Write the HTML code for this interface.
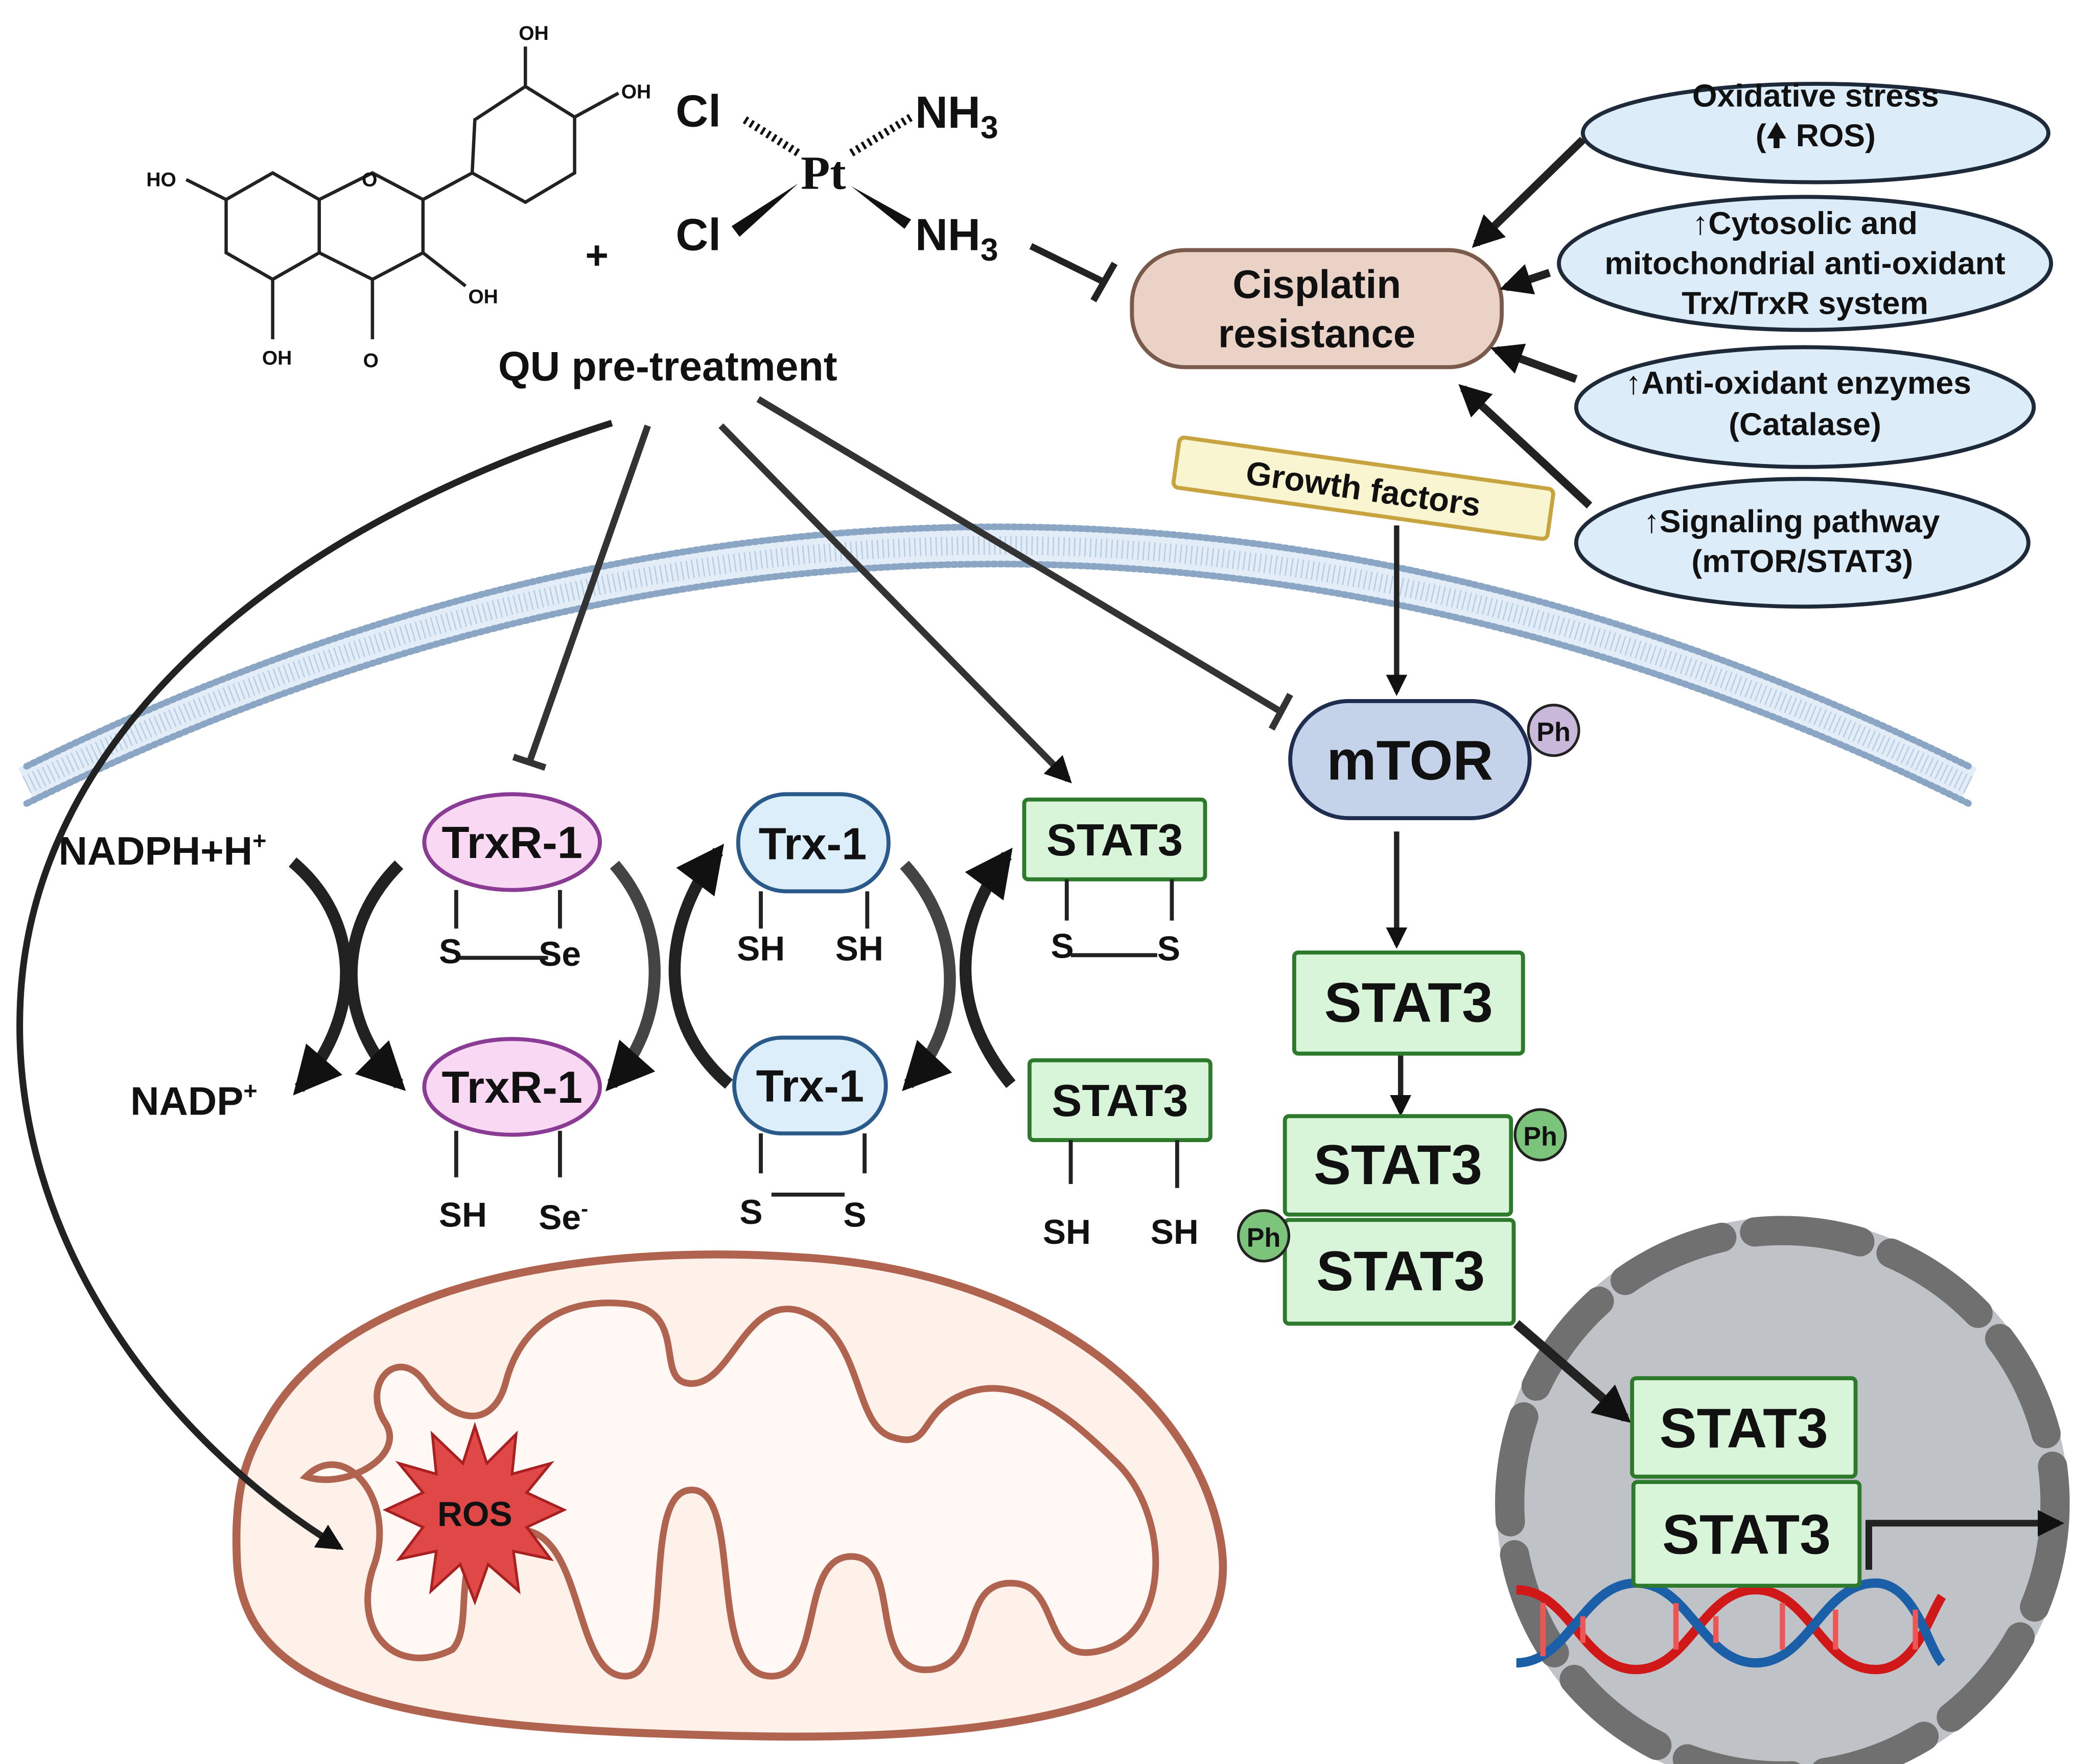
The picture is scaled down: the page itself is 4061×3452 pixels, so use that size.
<!DOCTYPE html>
<html><head><meta charset="utf-8"><style>
html,body{margin:0;padding:0;background:#fff;}
svg{display:block;}
text{font-family:"Liberation Sans",sans-serif;font-weight:bold;fill:#111;}
</style></head><body>
<svg width="4061" height="3452" viewBox="0 0 1560 1326" preserveAspectRatio="none" xmlns="http://www.w3.org/2000/svg">
<defs>
<marker id="ah" viewBox="0 0 10 10" refX="8" refY="5" markerWidth="4" markerHeight="4" orient="auto"><path d="M0,0 L10,5 L0,10 z" fill="#111"/></marker>
</defs>
<rect width="1560" height="1326" fill="#fff"/>

<!-- membrane -->
<path d="M20,590 Q750,230 1480,590" fill="none" stroke="#e3edf7" stroke-width="28"/>
<path d="M20,590 Q750,230 1480,590" fill="none" stroke="#b8cde2" stroke-width="14" stroke-dasharray="1 3"/>
<path d="M20,576 Q750,216 1480,576" fill="none" stroke="#8aa6c4" stroke-width="5" stroke-dasharray="2 3" stroke-linecap="round"/>
<path d="M20,604 Q750,244 1480,604" fill="none" stroke="#8aa6c4" stroke-width="5" stroke-dasharray="2 3" stroke-linecap="round"/>

<!-- quercetin -->
<g stroke="#222" stroke-width="2.5" fill="none">
<path d="M170,150 L205,130 L240,150 L240,190 L205,210 L170,190 Z"/>
<path d="M240,150 L280,130 L318,150 L318,190 L280,210 L240,190"/>
<path d="M318,150 L355,130 L357,90 L395,65 L432,88 L432,130 L395,152 L355,130"/>
<path d="M280,210 L280,255 M318,190 L350,215 M205,210 L205,255 M170,150 L140,135 M432,88 L465,70 M395,65 L395,35"/>
</g>
<g style="font-size:15px;font-weight:normal">
<text x="110" y="140">HO</text><text x="272" y="140">O</text><text x="197" y="274">OH</text><text x="273" y="276">O</text><text x="352" y="228">OH</text><text x="467" y="74">OH</text><text x="390" y="30">OH</text>
</g>
<text x="440" y="202" style="font-size:30px">+</text>
<text x="508" y="95" style="font-size:34px">Cl</text>
<text x="688" y="96" style="font-size:34px">NH<tspan style="font-size:24px" dy="8">3</tspan></text>
<text x="602" y="142" style="font-size:36px;font-family:'Liberation Serif',serif">Pt</text>
<text x="508" y="188" style="font-size:34px">Cl</text>
<text x="688" y="188" style="font-size:34px">NH<tspan style="font-size:24px" dy="8">3</tspan></text>
<path d="M560,90 L600,115" stroke="#111" stroke-width="6" stroke-dasharray="2 3"/>
<path d="M640,115 L685,88" stroke="#111" stroke-width="6" stroke-dasharray="2 3"/>
<path d="M550,170 L600,138 L556,178 Z" fill="#111"/>
<path d="M640,140 L685,165 L680,172 Z" fill="#111"/>
<text x="502" y="286" text-anchor="middle" style="font-size:31px">QU pre-treatment</text>
<path d="M775,185 L830,212 M822,226 L838,198" stroke="#222" stroke-width="5"/>

<rect x="851" y="188" width="278" height="88" rx="40" fill="#ead3c6" stroke="#7a5a4a" stroke-width="3"/>
<text x="990" y="224" text-anchor="middle" style="font-size:30px">Cisplatin</text>
<text x="990" y="261" text-anchor="middle" style="font-size:30px">resistance</text>

<g fill="#dcecf9" stroke="#1e2a3a" stroke-width="3">
<ellipse cx="1365" cy="100" rx="175" ry="37"/>
<ellipse cx="1357" cy="198" rx="185" ry="50"/>
<ellipse cx="1357" cy="306" rx="172" ry="45"/>
<ellipse cx="1355" cy="408" rx="170" ry="48"/>
</g>
<g style="font-size:24px" text-anchor="middle">
<text x="1365" y="80">Oxidative stress</text><text x="1365" y="110">(🠝 ROS)</text>
<text x="1357" y="176">↑Cytosolic and</text><text x="1357" y="206">mitochondrial anti-oxidant</text><text x="1357" y="236">Trx/TrxR system</text>
<text x="1352" y="296">↑Anti-oxidant enzymes</text><text x="1357" y="327">(Catalase)</text>
<text x="1347" y="400">↑Signaling pathway</text><text x="1355" y="430">(mTOR/STAT3)</text>
</g>
<g stroke="#222" stroke-width="6" marker-end="url(#ah)">
<path d="M1190,105 L1110,183"/><path d="M1165,205 L1132,216"/><path d="M1185,285 L1125,263"/><path d="M1195,380 L1100,292"/>
</g>

<g transform="translate(1025,367) rotate(8)">
<rect x="-142" y="-19" width="284" height="38" rx="4" fill="#f8f5d0" stroke="#c8a440" stroke-width="3"/>
<text x="0" y="9" text-anchor="middle" style="font-size:25px">Growth factors</text>
</g>
<path d="M1050,395 L1050,520" stroke="#222" stroke-width="4" marker-end="url(#ah)"/>

<rect x="970" y="527" width="180" height="88" rx="44" fill="#c5d3ea" stroke="#1f2d50" stroke-width="3"/>
<text x="1060" y="586" text-anchor="middle" style="font-size:42px">mTOR</text>
<circle cx="1168" cy="549" r="19" fill="#c9b8d9" stroke="#222" stroke-width="2"/><text x="1168" y="557" text-anchor="middle" style="font-size:20px">Ph</text>
<path d="M1050,625 L1050,710" stroke="#222" stroke-width="4" marker-end="url(#ah)"/>
<path d="M1053,792 L1053,836" stroke="#222" stroke-width="4" marker-end="url(#ah)"/>

<g fill="#d9f5d9" stroke="#2d7a2d" stroke-width="3">
<rect x="973" y="716" width="172" height="76" rx="3"/>
<rect x="966" y="839" width="170" height="74" rx="3"/>
<rect x="966" y="917" width="172" height="78" rx="3"/>
<rect x="770" y="601" width="136" height="60" rx="3"/>
<rect x="774" y="797" width="136" height="60" rx="3"/>
</g>
<g text-anchor="middle" style="font-size:42px">
<text x="1059" y="768">STAT3</text><text x="1051" y="890">STAT3</text><text x="1053" y="970">STAT3</text>
</g>
<g text-anchor="middle" style="font-size:34px"><text x="838" y="643">STAT3</text><text x="842" y="839">STAT3</text></g>
<g fill="#7cc47c" stroke="#222" stroke-width="2">
<circle cx="1158" cy="853" r="19"/><circle cx="950" cy="929" r="19"/><circle cx="1420" cy="1052" r="23"/><circle cx="1210" cy="1130" r="23"/>
</g>
<g text-anchor="middle" style="font-size:20px"><text x="1158" y="861">Ph</text><text x="950" y="937">Ph</text><text x="1420" y="1058">Ph</text><text x="1210" y="1136">Ph</text></g>

<!-- nucleus -->
<circle cx="1340" cy="1130" r="215" fill="#bfc3c8"/>
<circle cx="1340" cy="1130" r="205" fill="none" stroke="#707070" stroke-width="22" stroke-dasharray="80 25" stroke-linecap="round"/>
<path d="M1140,995 L1222,1066" stroke="#222" stroke-width="7" marker-end="url(#ah)"/>
<path d="M1140,1195 C1180,1195 1190,1255 1230,1255 C1270,1255 1280,1195 1320,1195 C1360,1195 1370,1255 1410,1255 C1440,1255 1450,1215 1460,1200" fill="none" stroke="#d01818" stroke-width="7"/>
<path d="M1140,1250 C1180,1250 1190,1190 1230,1190 C1270,1190 1280,1250 1320,1250 C1360,1250 1370,1190 1410,1190 C1440,1190 1450,1240 1460,1250" fill="none" stroke="#1a5fa8" stroke-width="7"/>
<g stroke="#e55" stroke-width="4"><path d="M1160,1205V1245M1190,1215V1235M1260,1205V1240M1290,1215V1235M1340,1205V1240M1380,1210V1240M1440,1210V1240"/></g>
<g fill="#d9f5d9" stroke="#2d7a2d" stroke-width="3">
<rect x="1227" y="1036" width="168" height="74" rx="3"/>
<rect x="1228" y="1114" width="170" height="78" rx="3"/>
</g>
<g text-anchor="middle" style="font-size:42px"><text x="1311" y="1088">STAT3</text><text x="1313" y="1168">STAT3</text></g>
<path d="M1405,1180 L1405,1145 L1548,1145" fill="none" stroke="#222" stroke-width="5" marker-end="url(#ah)"/>

<path d="M487,320 L398,573 M386,569 L410,577" stroke="#333" stroke-width="5"/>
<path d="M542,320 L803,586" stroke="#333" stroke-width="5" marker-end="url(#ah)"/>
<path d="M570,300 L963,535 M956,548 L970,522" stroke="#333" stroke-width="5"/>

<g fill="#f9d8f4" stroke="#8a3b93" stroke-width="3"><ellipse cx="385" cy="633" rx="66" ry="36"/><ellipse cx="385" cy="817" rx="66" ry="36"/></g>
<g fill="#dbeefa" stroke="#2a5a8a" stroke-width="3"><rect x="555" y="597" width="113" height="73" rx="36"/><rect x="552" y="780" width="114" height="72" rx="36"/></g>
<g text-anchor="middle" style="font-size:34px">
<text x="385" y="645">TrxR-1</text><text x="385" y="829">TrxR-1</text><text x="611" y="646">Trx-1</text><text x="609" y="828">Trx-1</text>
</g>
<g stroke="#222" stroke-width="3">
<path d="M343,669V698M421,669V698M345,720H412M343,850V885M421,850V885"/>
<path d="M572,670V698M652,670V698M572,852V882M650,852V882M580,898H635"/>
<path d="M802,661V692M881,661V692M805,718H870M805,857V890M885,857V893"/>
</g>
<g style="font-size:26px">
<text x="330" y="724">S</text><text x="405" y="726">Se</text>
<text x="330" y="922">SH</text><text x="405" y="924">Se<tspan dy="-10" style="font-size:16px">-</tspan></text>
<text x="554" y="722">SH</text><text x="628" y="722">SH</text>
<text x="556" y="920">S</text><text x="634" y="922">S</text>
<text x="790" y="720">S</text><text x="870" y="722">S</text>
<text x="784" y="935">SH</text><text x="865" y="935">SH</text>
<text x="44" y="650" style="font-size:30px">NADPH+H<tspan dy="-12" style="font-size:18px">+</tspan></text>
<text x="98" y="838" style="font-size:30px">NADP<tspan dy="-12" style="font-size:18px">+</tspan></text>
</g>
<g fill="none" stroke-width="9">
<path d="M220,648 C270,690 275,760 225,818" stroke="#222" marker-end="url(#ah)"/>
<path d="M300,650 C250,700 255,770 300,815" stroke="#222" marker-end="url(#ah)"/>
<path d="M462,650 C505,700 500,770 460,815" stroke="#444" marker-end="url(#ah)"/>
<path d="M548,815 C495,770 495,700 540,640" stroke="#222" marker-end="url(#ah)"/>
<path d="M680,650 C725,700 725,770 683,815" stroke="#444" marker-end="url(#ah)"/>
<path d="M760,815 C715,760 715,700 757,643" stroke="#222" marker-end="url(#ah)"/>
</g>

<!-- mitochondrion -->
<path d="M200,1070 C260,960 450,935 600,945 C780,955 900,1050 918,1160 C935,1270 800,1310 560,1305 C330,1300 180,1285 178,1170 C176,1120 185,1095 200,1070 Z" fill="#fdf1ea" stroke="#b0634f" stroke-width="6"/>
<path d="M230,1110 C260,1080 300,1130 280,1180 C265,1230 300,1260 340,1240 C360,1220 330,1150 390,1150 C440,1150 430,1260 470,1260 C510,1260 480,1120 520,1120 C560,1120 530,1260 580,1260 C620,1260 600,1170 640,1170 C680,1170 650,1260 700,1255 C740,1250 720,1190 760,1190 C800,1190 780,1255 830,1240 C880,1225 880,1140 840,1100 C800,1060 760,1030 720,1050 C690,1065 700,1090 670,1080 C640,1070 650,1000 600,985 C560,975 550,1040 520,1040 C490,1040 520,985 470,980 C420,975 390,1000 380,1040 C370,1075 340,1070 320,1040 C300,1010 270,1040 290,1070 C305,1095 260,1120 230,1110 Z" fill="#fff8f5" stroke="#b0634f" stroke-width="5"/>
<polygon points="357,1072 366,1100 388,1078 385,1108 414,1100 396,1122 424,1135 396,1148 414,1172 386,1166 390,1196 367,1176 357,1204 346,1176 324,1196 328,1166 300,1172 318,1148 290,1135 318,1122 300,1100 328,1108 325,1078 348,1100" fill="#e04848" stroke="#a82020" stroke-width="2"/>
<text x="357" y="1147" text-anchor="middle" style="font-size:26px">ROS</text>

<!-- long curved arrow drawn on top -->
<path d="M460,318 C200,400 20,560 15,760 C10,930 120,1080 255,1163" fill="none" stroke="#222" stroke-width="5" marker-end="url(#ah)"/>
</svg>
</body></html>
